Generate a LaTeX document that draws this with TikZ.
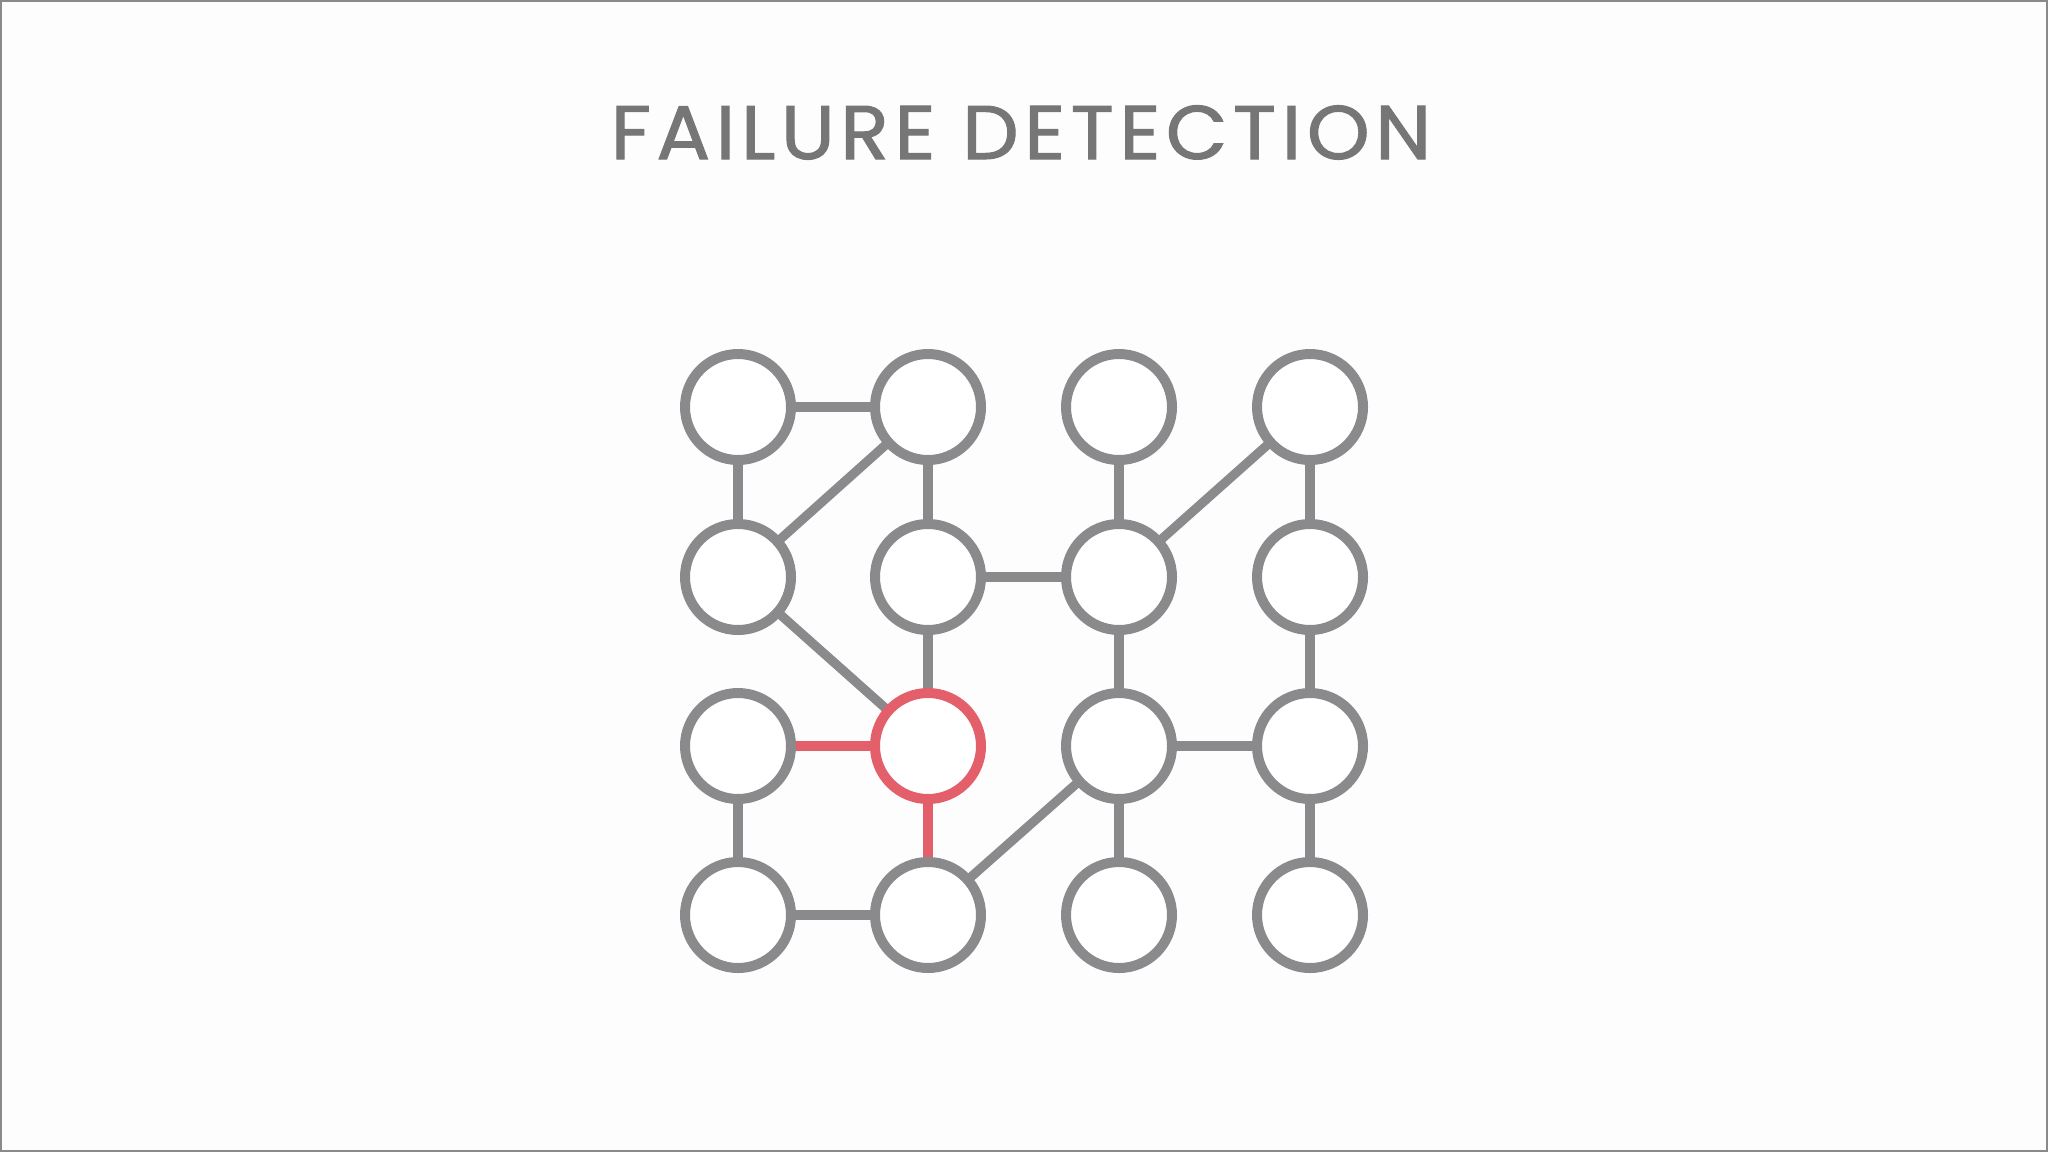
\documentclass[tikz,border=0pt]{standalone}
\usepackage{fontspec}
\newfontfamily\titlefont[LetterSpace=7.3,FakeStretch=1.05,FakeBold=1.4]{Poppins}
\usetikzlibrary{backgrounds}
\definecolor{bgc}{HTML}{FDFDFE}
\definecolor{nodegray}{HTML}{8A8A8C}
\definecolor{titlegray}{HTML}{767676}
\definecolor{alertred}{HTML}{E3606A}
\definecolor{framegray}{HTML}{8A8A8A}
\tikzset{
  peer/.style={circle, draw=nodegray, fill=white, line width=5pt, minimum size=53pt, inner sep=0pt},
  failed/.style={peer, draw=alertred},
  link/.style={draw=nodegray, line width=4.6pt},
  badlink/.style={draw=alertred, line width=4.6pt},
}
\begin{document}
\begin{tikzpicture}[x=0.5pt,y=-0.5pt]
\useasboundingbox (0,0) rectangle (2048,1152);
% nodes
\foreach \c/\x in {0/738,1/928,2/1119,3/1310}{
  \foreach \r/\y in {0/407,1/577,3/915}{
    \node[peer] (n\c\r) at (\x,\y) {};
  }
}
\node[peer] (n02) at (738,746) {};
\node[failed] (n12) at (928,746) {};
\node[peer] (n22) at (1119,746) {};
\node[peer] (n32) at (1310,746) {};
\begin{scope}[on background layer]
  \fill[bgc] (0,0) rectangle (2048,1152);
  \draw[framegray, line width=1pt] (1,1) rectangle (2047,1151);
  \draw[link] (n00.center) -- (n10.center);
  \draw[link] (n00.center) -- (n01.center);
  \draw[link] (n10.center) -- (n01.center);
  \draw[link] (n10.center) -- (n11.center);
  \draw[link] (n11.center) -- (n21.center);
  \draw[link] (n20.center) -- (n21.center);
  \draw[link] (n30.center) -- (n21.center);
  \draw[link] (n30.center) -- (n31.center);
  \draw[link] (n01.center) -- (n12.center);
  \draw[link] (n11.center) -- (n12.center);
  \draw[link] (n21.center) -- (n22.center);
  \draw[link] (n31.center) -- (n32.center);
  \draw[link] (n22.center) -- (n32.center);
  \draw[link] (n22.center) -- (n13.center);
  \draw[link] (n22.center) -- (n23.center);
  \draw[link] (n32.center) -- (n33.center);
  \draw[link] (n02.center) -- (n03.center);
  \draw[link] (n03.center) -- (n13.center);
  \draw[badlink] (n02.center) -- (n12.center);
  \draw[badlink] (n12.center) -- (n13.center);
\end{scope}
\node[text=titlegray, font=\titlefont\fontsize{38}{40}\selectfont, anchor=base] (title) at (1021,159) {FAILURE DETECTION};
\end{tikzpicture}
\end{document}
